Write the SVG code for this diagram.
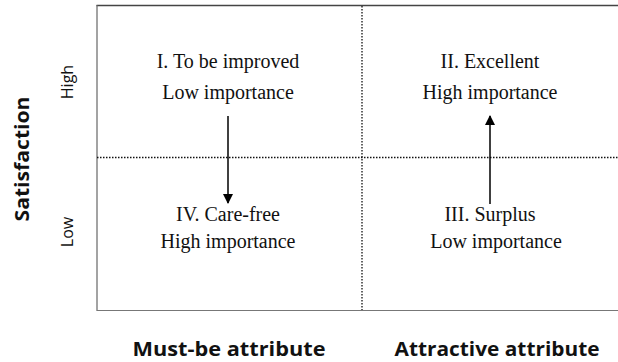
<svg xmlns="http://www.w3.org/2000/svg" width="618" height="362" viewBox="0 0 618 362">
  <defs>
    <marker id="head" viewBox="0 0 10 10" refX="9" refY="5" markerWidth="10" markerHeight="10" markerUnits="userSpaceOnUse" orient="auto">
      <path d="M0,0 L10,5 L0,10 z" fill="#000"/>
    </marker>
    <style>
      .q { font-family: "Liberation Serif", "Times New Roman", serif; font-size: 20px; fill: #111; text-anchor: middle; }
      .ax { font-family: "Open Sans", "Liberation Sans", sans-serif; font-weight: bold; fill: #111; text-anchor: middle; }
      .tick { font-family: "Open Sans", "Liberation Sans", sans-serif; font-size: 16px; fill: #111; text-anchor: middle; }
      .div { stroke: #111; stroke-width: 1.3; stroke-dasharray: 1.5 1.5; fill: none; }
      .arrow { stroke: #000; stroke-width: 1.5; fill: none; marker-end: url(#head); }
    </style>
  </defs>
  <rect width="618" height="362" fill="#fff"/>

  <!-- plot frame -->
  <g id="frame">
    <line x1="96.5" y1="5.5" x2="618" y2="5.5" stroke="#444" stroke-width="1.6"/>
    <line x1="97" y1="5" x2="97" y2="310.5" stroke="#666" stroke-width="1.2"/>
    <line x1="96.5" y1="310.5" x2="618" y2="310.5" stroke="#777" stroke-width="1.2"/>
    <line class="div" x1="97" y1="157.5" x2="618" y2="157.5"/>
    <line class="div" x1="362" y1="6" x2="362" y2="310"/>
  </g>

  <!-- quadrants -->
  <g id="q1">
    <text class="q" x="228" y="68">I. To be improved</text>
    <text class="q" x="228" y="99">Low importance</text>
  </g>
  <g id="q2">
    <text class="q" x="490" y="68">II. Excellent</text>
    <text class="q" x="490" y="99">High importance</text>
  </g>
  <g id="q3">
    <text class="q" x="490" y="221">III. Surplus</text>
    <text class="q" x="496" y="248">Low importance</text>
  </g>
  <g id="q4">
    <text class="q" x="228" y="221">IV. Care-free</text>
    <text class="q" x="228" y="248">High importance</text>
  </g>

  <!-- transitions -->
  <g id="connectors">
    <line class="arrow" x1="228" y1="116" x2="228" y2="203"/>
    <line class="arrow" x1="490" y1="204" x2="490" y2="116"/>
  </g>

  <!-- axis labels -->
  <g id="axes">
    <text class="ax" x="229" y="356" font-size="19" textLength="193" lengthAdjust="spacingAndGlyphs">Must-be attribute</text>
    <text class="ax" x="497" y="356" font-size="19" textLength="205" lengthAdjust="spacingAndGlyphs">Attractive attribute</text>
    <text class="ax" transform="translate(29,159) rotate(-90)" font-size="20" textLength="125" lengthAdjust="spacingAndGlyphs">Satisfaction</text>
    <text class="tick" transform="translate(73,82) rotate(-90)">High</text>
    <text class="tick" transform="translate(73,232) rotate(-90)">Low</text>
  </g>
</svg>
